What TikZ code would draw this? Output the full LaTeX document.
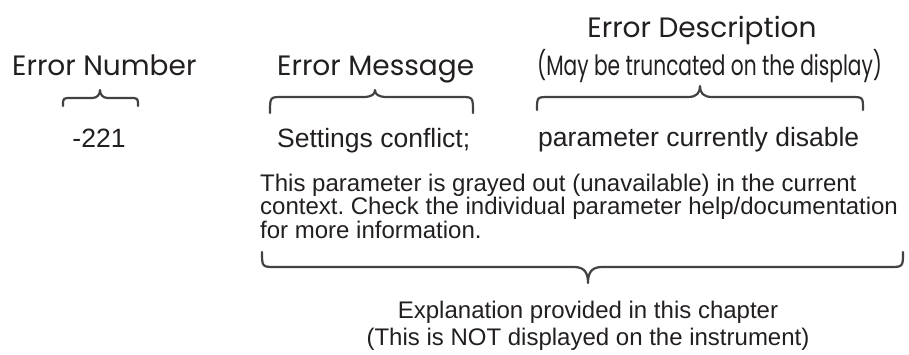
\documentclass[tikz,border=0pt]{standalone}
\usepackage{fontspec}
\usepackage{graphicx}
\setmainfont{Liberation Sans}
\newfontfamily\headfont{Poppins}
\usetikzlibrary{positioning}
\frenchspacing
\definecolor{ink}{HTML}{231F20}
\tikzset{
  head/.style  = {inner sep=0pt, text=ink, font=\headfont\fontsize{28}{30}\selectfont},
  entry/.style = {inner sep=0pt, text=ink, font=\fontsize{26.5}{28}\selectfont},
  note/.style  = {inner sep=0pt, text=ink, font=\fontsize{24}{22}\selectfont},
  curly/.style = {draw=ink!85, line width=2.2pt, line cap=round, line join=round}
}
\begin{document}
\begin{tikzpicture}[x=1pt, y=-1pt]
  \useasboundingbox (0,0) rectangle (909,354);

  % headings over the braces
  \node[head, anchor=base west] (errnum) at (12,75) {Error Number};
  \node[head, anchor=base west] (errmsg) at (277,75) {Error Message};
  \node[head, anchor=base] (errdesc) at (702,37) {Error Description};
  \node[head, anchor=base west] (trunc) at (537,75)
    {\scalebox{0.72}[1]{(May be truncated on the display)}};

  % what the instrument shows
  \node[entry, anchor=base] (code) at (99,147) {-221};
  \node[entry, anchor=base west] (msg) at (277,147) {Settings conflict;};
  \node[entry, anchor=base west] (desc) at (538,146) {parameter currently disable};

  % text of this chapter (base = last line)
  \node[note, anchor=base west, align=left] (expl) at (260,238)
  {This parameter is grayed out (unavailable) in the current\\
   context. Check the individual parameter help/documentation\\
   for more information.};
  \node[note, anchor=base, align=center, font=\fontsize{24}{27}\selectfont] (remark) at (588,345)
  {Explanation provided in this chapter\\
   (This is NOT displayed on the instrument)};

  % braces: left end / tip / right end / end y / tip y / flat y / radius
  \foreach \xa/\xt/\xb/\ye/\yt/\yf/\r in {63/100/138/106/90/98/8,
      270/375/473/113/90/97/12, 537/700/863/110/86/97/12,
      262/588/903/252/283/267/14}
    \draw[curly] (\xa,\ye) .. controls (\xa,\yf) .. (\xa+\r,\yf)
      -- (\xt-\r,\yf) .. controls (\xt-3,\yf) and (\xt,{\yf+0.4*(\yt-\yf)}) .. (\xt,\yt)
      .. controls (\xt,{\yf+0.4*(\yt-\yf)}) and (\xt+3,\yf) .. (\xt+\r,\yf)
      -- (\xb-\r,\yf) .. controls (\xb,\yf) .. (\xb,\ye);
\end{tikzpicture}
\end{document}
